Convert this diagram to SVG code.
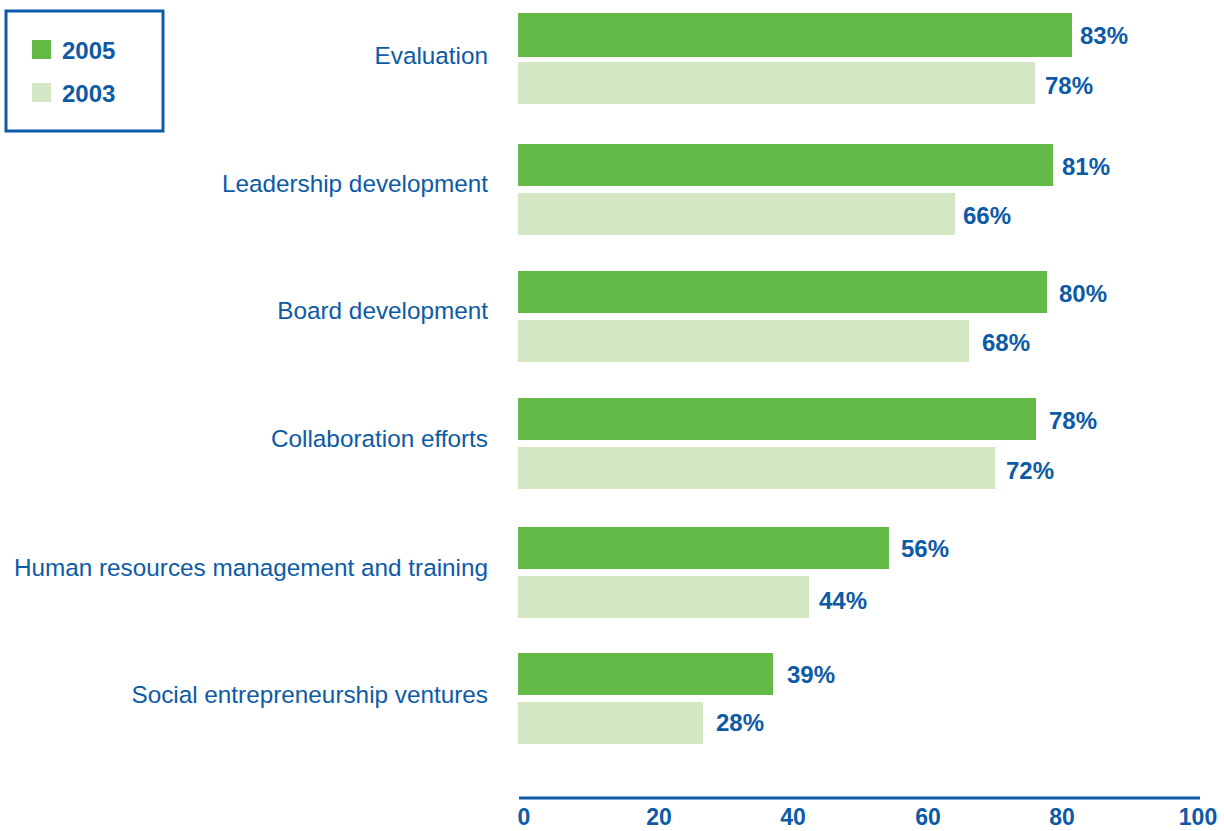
<svg xmlns="http://www.w3.org/2000/svg" width="1224" height="831" viewBox="0 0 1224 831">
<style>
.cat{font-family:"Liberation Sans",Arial,sans-serif;font-size:24.3px;fill:#0d5ba6;text-anchor:end}
.val{font-family:"Liberation Sans",Arial,sans-serif;font-size:24px;font-weight:bold;fill:#0d5ba6}
.tick{font-family:"Liberation Sans",Arial,sans-serif;font-size:23px;font-weight:bold;fill:#0d5ba6;text-anchor:middle}
.b05{fill:#63ba47}
.b03{fill:#d3e7c5}
</style>
<rect width="1224" height="831" fill="#ffffff"/>
<g id="legend">
<rect x="6" y="11" width="157" height="120" fill="none" stroke="#0d5ba6" stroke-width="3"/>
<rect class="b05" x="32" y="40" width="19" height="19"/>
<text class="val" x="62" y="59">2005</text>
<rect class="b03" x="32" y="83" width="19" height="19"/>
<text class="val" x="62" y="102">2003</text>
</g>
<g id="evaluation">
<text class="cat" x="488" y="64">Evaluation</text>
<rect class="b05" x="518" y="13" width="554" height="44"/>
<text class="val" x="1080" y="44">83%</text>
<rect class="b03" x="518" y="62" width="517" height="42"/>
<text class="val" x="1045" y="94">78%</text>
</g>
<g id="leadership">
<text class="cat" x="488" y="192">Leadership development</text>
<rect class="b05" x="518" y="144" width="535" height="42"/>
<text class="val" x="1062" y="175">81%</text>
<rect class="b03" x="518" y="193" width="437" height="42"/>
<text class="val" x="963" y="224">66%</text>
</g>
<g id="board">
<text class="cat" x="488" y="319">Board development</text>
<rect class="b05" x="518" y="271" width="529" height="42"/>
<text class="val" x="1059" y="302">80%</text>
<rect class="b03" x="518" y="320" width="451" height="42"/>
<text class="val" x="982" y="351">68%</text>
</g>
<g id="collaboration">
<text class="cat" x="488" y="447">Collaboration efforts</text>
<rect class="b05" x="518" y="398" width="518" height="42"/>
<text class="val" x="1049" y="429">78%</text>
<rect class="b03" x="518" y="447" width="477" height="42"/>
<text class="val" x="1006" y="479">72%</text>
</g>
<g id="hr">
<text class="cat" x="488" y="576">Human resources management and training</text>
<rect class="b05" x="518" y="527" width="371" height="42"/>
<text class="val" x="901" y="557">56%</text>
<rect class="b03" x="518" y="576" width="291" height="42"/>
<text class="val" x="819" y="609">44%</text>
</g>
<g id="social">
<text class="cat" x="488" y="703">Social entrepreneurship ventures</text>
<rect class="b05" x="518" y="653" width="255" height="42"/>
<text class="val" x="787" y="683">39%</text>
<rect class="b03" x="518" y="702" width="185" height="42"/>
<text class="val" x="716" y="731">28%</text>
</g>
<g id="axis">
<line x1="519" y1="798" x2="1200" y2="798" stroke="#0d5ba6" stroke-width="3"/>
<text class="tick" x="524" y="825">0</text>
<text class="tick" x="659" y="825">20</text>
<text class="tick" x="793" y="825">40</text>
<text class="tick" x="928" y="825">60</text>
<text class="tick" x="1062" y="825">80</text>
<text class="tick" x="1198" y="825">100</text>
</g>
</svg>
